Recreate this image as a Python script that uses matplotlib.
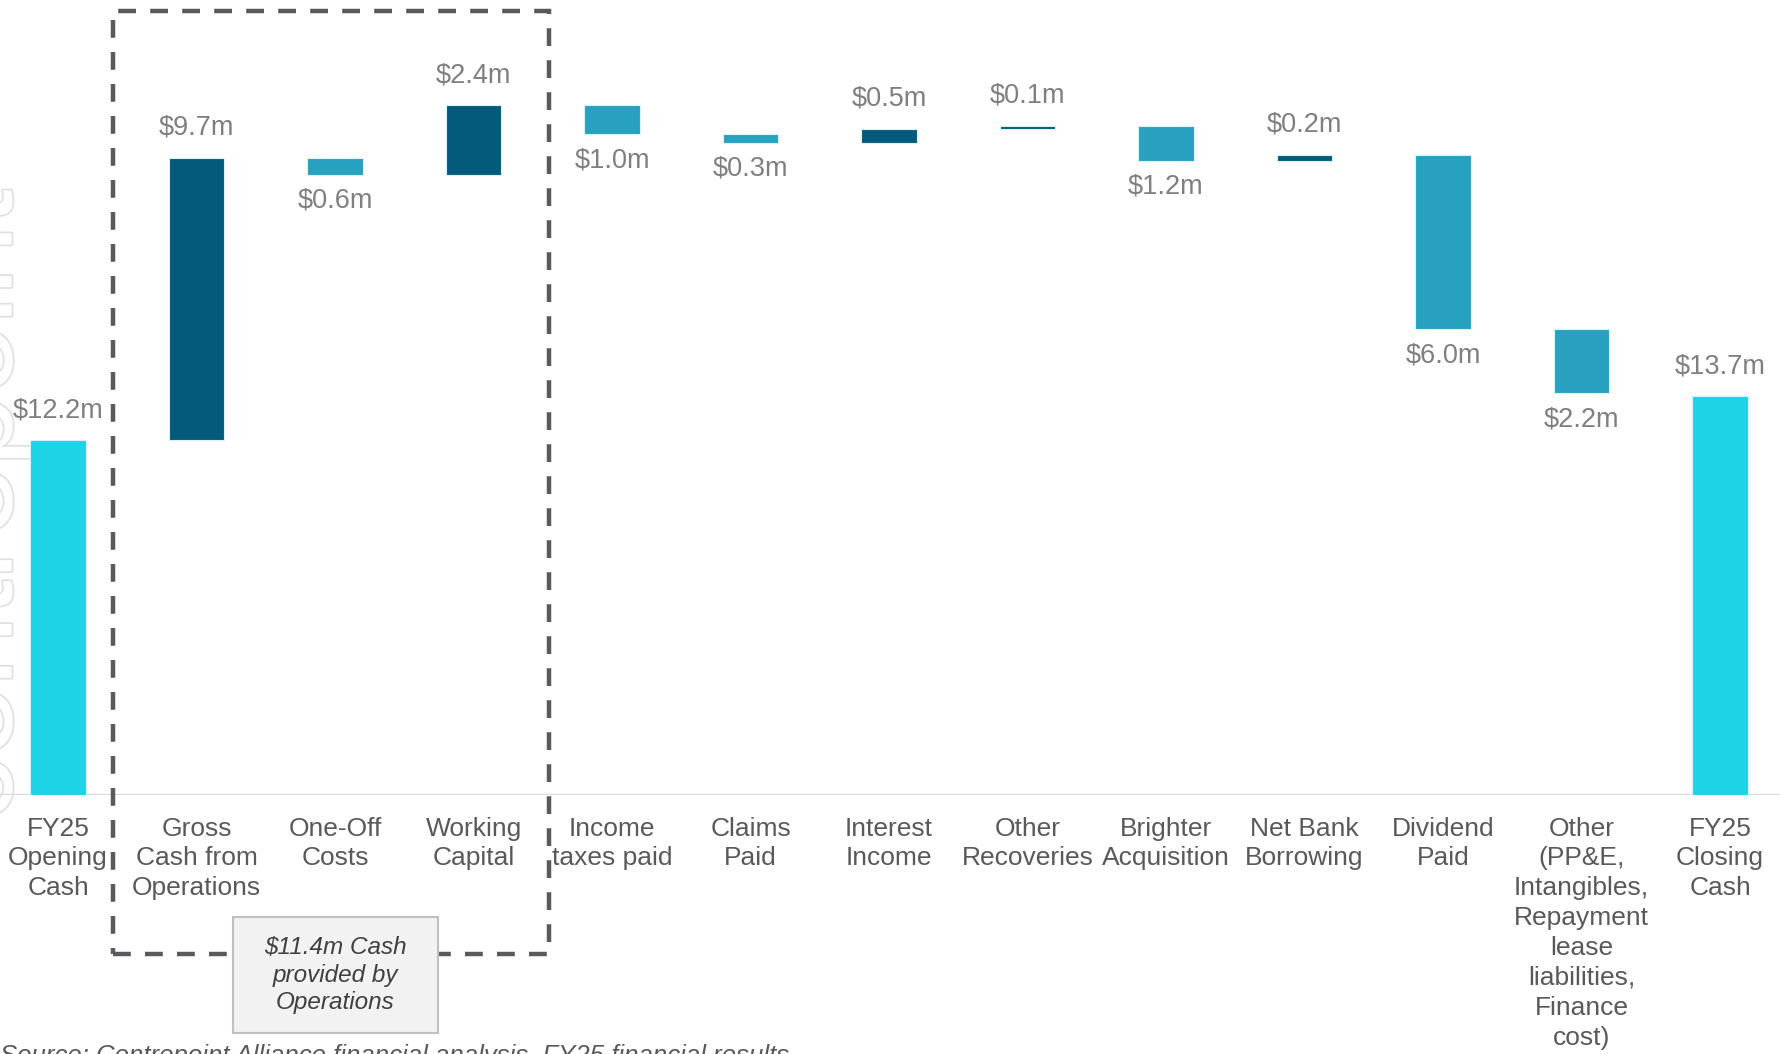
import numpy as np
import matplotlib
matplotlib.use('Agg')
import matplotlib.pyplot as plt
from matplotlib.patches import Rectangle
import matplotlib.patheffects as pe

plt.rcParams['font.family'] = ['Liberation Sans', 'DejaVu Sans']

# cash bridge FY25 ($m)
cats = ['FY25\nOpening\nCash', 'Gross\nCash from\nOperations', 'One-Off\nCosts', 'Working\nCapital',
        'Income\ntaxes paid', 'Claims\nPaid', 'Interest\nIncome', 'Other\nRecoveries',
        'Brighter\nAcquisition', 'Net Bank\nBorrowing', 'Dividend\nPaid',
        'Other\n(PP&E,\nIntangibles,\nRepayment\nlease\nliabilities,\nFinance\ncost)',
        'FY25\nClosing\nCash']
vals = [12.2, 9.7, -0.6, 2.4, -1.0, -0.3, 0.5, 0.1, -1.2, 0.2, -6.0, -2.2, 13.7]
kind = ['total', 'step', 'step', 'step', 'step', 'step', 'step', 'step', 'step', 'step', 'step', 'step', 'total']
box_note = '$11.4m Cash\nprovided by\nOperations'
source = 'Source: Centrepoint Alliance financial analysis, FY25 financial results'

c_tot = '#1DD3E6'
c_up = '#045A7A'
c_dn = '#28A1C1'
c_val = '#7f7f7f'
c_cat = '#595959'

fig = plt.figure(figsize=(17.8, 10.54), dpi=100)
ax = fig.add_axes([0, 259/1054, 1, 795/1054])
ax.set_xlim(-0.419, 12.433)
ax.set_ylim(0, 27.32)
ax.axis('off')

x = np.arange(len(vals))
bots, heights, cols = [], [], []
run = 0
for v, k in zip(vals, kind):
    if k == 'total':
        bots.append(0); heights.append(v); cols.append(c_tot)
        run = v
    else:
        if v >= 0:
            bots.append(run); cols.append(c_up)
        else:
            bots.append(run+v); cols.append(c_dn)
        heights.append(abs(v))
        run = run+v

ax.bar(x, heights, bottom=bots, width=0.4, color=cols, edgecolor='#d8f1f7', linewidth=0.8, zorder=3)
ax.axhline(0, color='#d9d9d9', lw=1.6, zorder=2)

# value labels
for i in range(len(vals)):
    lab = '$%.1fm' % abs(vals[i])
    if vals[i] >= 0:
        ax.annotate(lab, (x[i], bots[i]+heights[i]), xytext=(0, 21.5), textcoords='offset points',
                    ha='center', va='center', fontsize=19.5, color=c_val, zorder=5)
    else:
        ax.annotate(lab, (x[i], bots[i]), xytext=(0, -18.5), textcoords='offset points',
                    ha='center', va='center', fontsize=19.5, color=c_val, zorder=5)

# category labels
for i in range(len(cats)):
    ax.annotate(cats[i], (x[i], 0), xytext=(0, -15.5), textcoords='offset points',
                ha='center', va='top', fontsize=19, color=c_cat, linespacing=1.31,
                annotation_clip=False)

# dashed box round the operating items
ax.add_patch(Rectangle((0.40, -5.46), 3.145, 32.4, fill=False, ls=(0, (4, 3.2)),
                       lw=3.2, edgecolor='#59595e', clip_on=False, zorder=4))
ax.add_patch(Rectangle((1.263, -8.18), 1.48, 3.99, facecolor='#f2f2f2', edgecolor='#bfbfbf',
                       lw=1.5, clip_on=False, zorder=6))
ax.text(2.0, -6.19, box_note, ha='center', va='center', fontsize=17.5, style='italic',
        color='#404040', linespacing=1.25, zorder=7, clip_on=False)

# faint logo watermark on the left edge
fig.text(-0.012, 0.52, 'centrepoint', rotation=90, ha='center', va='center', fontsize=92,
         color='white', zorder=-1,
         path_effects=[pe.withStroke(linewidth=2.5, foreground='#e0e0e0')])

fig.text(0.0, 0.0095, source, ha='left', va='top', fontsize=18.5, style='italic', color='#595959')

fig.savefig('out.png', dpi=100)
